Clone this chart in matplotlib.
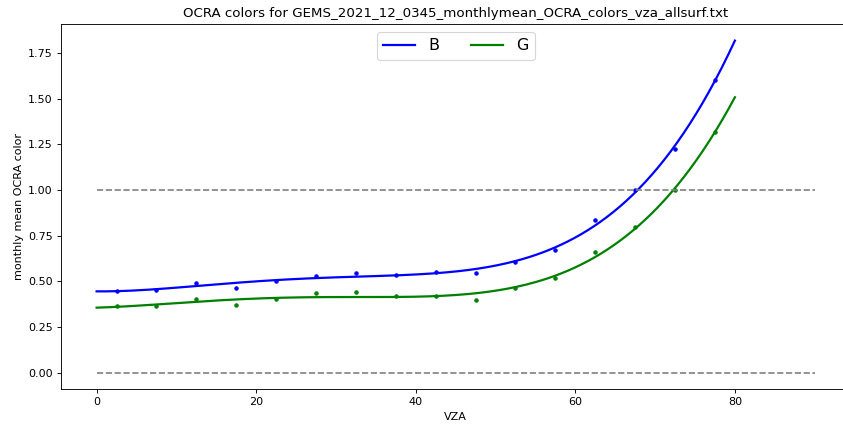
import numpy as np
import matplotlib
matplotlib.use('Agg')
import matplotlib.pyplot as plt

# monthly mean OCRA colors per VZA bin
vza = [2.5, 7.5, 12.5, 17.5, 22.5, 27.5, 32.5, 37.5, 42.5, 47.5,
       52.5, 57.5, 62.5, 67.5, 72.5, 77.5]
color_b = [0.449, 0.453, 0.491, 0.465, 0.502, 0.531, 0.544, 0.536, 0.549, 0.544,
           0.606, 0.673, 0.834, 1.000, 1.226, 1.602]
color_g = [0.367, 0.365, 0.403, 0.371, 0.401, 0.436, 0.440, 0.418, 0.420, 0.400,
           0.465, 0.520, 0.662, 0.800, 1.000, 1.317]

fit_range = [0, 80]
ref_lines = [0.0, 1.0]
ref_range = [0, 90]
deg = 4

dpi = 80
fig = plt.figure(figsize=(843/dpi, 428/dpi), dpi=dpi)
ax = fig.add_axes([0.072, 0.0904, 0.937, 0.8535])

xfit = np.linspace(fit_range[0], fit_range[1], 200)
for vals, col, name in [(color_b, 'blue', 'B'), (color_g, 'green', 'G')]:
    p = np.polyfit(vza, vals, deg)
    ax.plot(vza, vals, '.', color=col)
    ax.plot(xfit, np.polyval(p, xfit), color=col, lw=2, label=name)

for r in ref_lines:
    ax.plot(ref_range, [r, r], '--', color='gray')

ax.set_title('OCRA colors for GEMS_2021_12_0345_monthlymean_OCRA_colors_vza_allsurf.txt')
ax.set_xlabel('VZA')
ax.set_ylabel('monthly mean OCRA color')
ax.legend(loc='upper center', ncol=2, fontsize='x-large')

fig.savefig('out.png', dpi=dpi)
